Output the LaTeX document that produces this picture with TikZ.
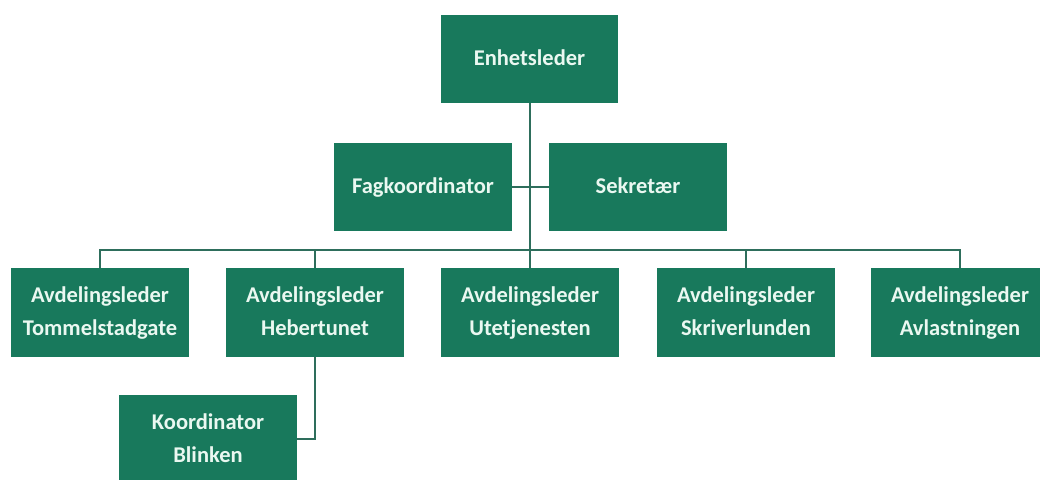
\documentclass[tikz,border=0pt]{standalone}
\usepackage{fontspec}
\setmainfont{Carlito}
\definecolor{boxgreen}{HTML}{18795C}
\definecolor{linegreen}{HTML}{2E6E5C}
\definecolor{txt}{HTML}{EAF8F1}
\tikzset{
  orgbox/.style={fill=boxgreen, draw=none, minimum width=178pt, minimum height=88pt,
    inner sep=0pt, align=center, text=txt, font=\bfseries\fontsize{22.5}{33}\selectfont},
  conn/.style={draw=linegreen, line width=1.6pt}
}
\begin{document}
\begin{tikzpicture}[x=1pt,y=-1pt]
\useasboundingbox (0,0) rectangle (1040,479);
\clip (0,0) rectangle (1040,479);
\fill[white] (0,0) rectangle (1040,479);
\node[orgbox, minimum width=177pt] (E) at (529.5,59) {\strut Enhetsleder};
\node[orgbox] (F) at (423,187) {\strut Fagkoordinator};
\node[orgbox] (S) at (638,187) {\strut Sekretær};
\node[orgbox, minimum height=89pt] (T) at (100,312.5) {\strut Avdelingsleder\\\strut Tommelstadgate};
\node[orgbox, minimum height=89pt] (H) at (315,312.5) {\strut Avdelingsleder\\\strut Hebertunet};
\node[orgbox, minimum height=89pt] (U) at (530,312.5) {\strut Avdelingsleder\\\strut Utetjenesten};
\node[orgbox, minimum height=89pt] (Sk) at (746,312.5) {\strut Avdelingsleder\\\strut Skriverlunden};
\node[orgbox, minimum height=89pt] (A) at (960,312.5) {\strut Avdelingsleder\\\strut Avlastningen};
\node[orgbox] (K) at (208,439) {\strut Koordinator\\\strut Blinken};
\coordinate (bus) at (530,250);
\coordinate (kc) at (315,439);
\draw[conn] (E.south -| bus) -- (bus) -- (U.north);
\draw[conn] (F.east) -- (S.west);
\draw[conn] (T.north) |- (bus) -| (A.north);
\draw[conn] (H.north) -- (H.north |- bus);
\draw[conn] (Sk.north) -- (Sk.north |- bus);
\draw[conn] (H.south) -- (kc) -- (K.east);
\end{tikzpicture}
\end{document}
